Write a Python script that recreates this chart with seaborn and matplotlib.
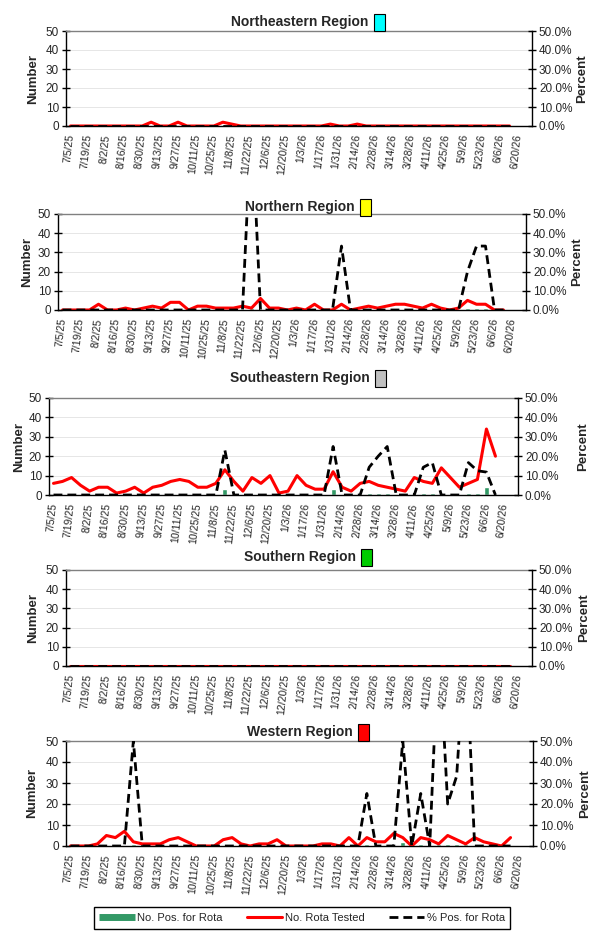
import numpy as np
import seaborn as sns
import matplotlib.pyplot as plt
from matplotlib.patches import Rectangle
from matplotlib.lines import Line2D

sns.set_style('white')
plt.rcParams['font.family'] = ['Liberation Sans', 'DejaVu Sans']

# 52 weekly categories starting 7/5/25, a label every second week
n_weeks = 52
tick_labels = ['7/5/25', '7/19/25', '8/2/25', '8/16/25', '8/30/25', '9/13/25', '9/27/25',
               '10/11/25', '10/25/25', '11/8/25', '11/22/25', '12/6/25', '12/20/25',
               '1/3/26', '1/17/26', '1/31/26', '2/14/26', '2/28/26', '3/14/26', '3/28/26',
               '4/11/26', '4/25/26', '5/9/26', '5/23/26', '6/6/26', '6/20/26']

regions = ['Northeastern Region', 'Northern Region', 'Southeastern Region',
           'Southern Region', 'Western Region']
region_colors = ['#00ffff', '#ffff00', '#c0c0c0', '#00cc00', '#ff0000']

# weeks 0..49 (data stops at 6/13/26)
ne_tested = [0, 0, 0, 0, 0, 0, 0, 0, 0, 2, 0, 0, 2, 0, 0, 0, 0, 2, 1, 0,
             0, 0, 0, 0, 0, 0, 0, 0, 0, 1, 0, 0, 1, 0, 0, 0, 0, 0, 0, 0,
             0, 0, 0, 0, 0, 0, 0, 0, 0, 0]
ne_pos = [0] * 50
ne_pct = [0] * 50

n_tested = [0, 0, 0, 0, 3, 0, 0, 1, 0, 1, 2, 1, 4, 4, 0, 2, 2, 1, 1, 1,
            2, 1, 6, 1, 1, 0, 1, 0, 3, 0, 0, 3, 0, 1, 2, 1, 2, 3, 3, 2,
            1, 3, 1, 0, 1, 5, 3, 3, 0, 0]
n_pos = [0, 0, 0, 0, 0, 0, 0, 0, 0, 0, 0, 0, 0, 0, 0, 0, 0, 0, 0, 0,
         0, 1, 0, 0, 0, 0, 0, 0, 0, 0, 0, 1, 0, 0, 0, 0, 0, 0, 0, 0,
         0, 0, 0, 0, 0, 1, 1, 1, 0, 0]
n_pct = [0, 0, 0, 0, 0, 0, 0, 0, 0, 0, 0, 0, 0, 0, 0, 0, 0, 0, 0, 0,
         0, 100, 0, 0, 0, 0, 0, 0, 0, 0, 0, 33.3, 0, 0, 0, 0, 0, 0, 0, 0,
         0, 0, 0, 0, 0, 20, 33.3, 33.3, 0, 0]

se_tested = [6, 7, 9, 5, 2, 4, 4, 1, 2, 4, 1, 4, 5, 7, 8, 7, 4, 4, 6, 13,
             7, 2, 9, 6, 10, 1, 2, 10, 5, 3, 3, 12, 4, 2, 6, 7, 5, 4, 3, 2,
             9, 7, 6, 14, 9, 4, 6, 8, 34, 20]
se_pos = [0, 0, 0, 0, 0, 0, 0, 0, 0, 0, 0, 0, 0, 0, 0, 0, 0, 0, 0, 3,
          0, 0, 0, 0, 0, 0, 0, 0, 0, 0, 0, 3, 0, 0, 0, 1, 1, 1, 0, 0,
          0, 1, 1, 0, 0, 0, 1, 1, 4, 0]
se_pct = [0, 0, 0, 0, 0, 0, 0, 0, 0, 0, 0, 0, 0, 0, 0, 0, 0, 0, 0, 23.1,
          0, 0, 0, 0, 0, 0, 0, 0, 0, 0, 0, 25, 0, 0, 0, 14.3, 20, 25, 0, 0,
          0, 14.3, 16.7, 0, 0, 0, 16.7, 12.5, 11.8, 0]

s_tested = [0] * 50
s_pos = [0] * 50
s_pct = [0] * 50

w_tested = [0, 0, 0, 1, 5, 4, 7, 2, 1, 1, 1, 3, 4, 2, 0, 0, 0, 3, 4, 1,
            0, 1, 1, 3, 0, 0, 0, 0, 1, 1, 0, 4, 0, 4, 2, 2, 6, 4, 0, 4,
            3, 1, 5, 3, 1, 4, 2, 1, 0, 4]
w_pos = [0, 0, 0, 0, 0, 0, 0, 1, 0, 0, 0, 0, 0, 0, 0, 0, 0, 0, 0, 0,
         0, 0, 0, 0, 0, 0, 0, 0, 0, 0, 0, 0, 0, 1, 0, 0, 0, 2, 0, 1,
         0, 1, 1, 1, 1, 0, 0, 0, 0, 0]
w_pct = [0, 0, 0, 0, 0, 0, 0, 50, 0, 0, 0, 0, 0, 0, 0, 0, 0, 0, 0, 0,
         0, 0, 0, 0, 0, 0, 0, 0, 0, 0, 0, 0, 0, 25, 0, 0, 0, 50, 0, 25,
         0, 100, 20, 33.3, 100, 0, 0, 0, 0, 0]

tested = [ne_tested, n_tested, se_tested, s_tested, w_tested]
positives = [ne_pos, n_pos, se_pos, s_pos, w_pos]
percents = [ne_pct, n_pct, se_pct, s_pct, w_pct]

# pixel layout: axes left, right, top, bottom, title y, "Number" x, "Percent" x
W, H = 600, 933
layout = [(66, 532, 31, 126, 22, 33, 582),
          (58, 526, 214, 310, 207, 27, 577),
          (49, 518, 398, 495, 378, 19, 583),
          (66, 532, 570, 666, 557, 33, 584),
          (66, 533, 741, 846, 732, 32, 585)]

bar_green = '#339966'
dash = (0, (3.2, 1.8))

fig = plt.figure(figsize=(W / 100, H / 100), dpi=100)
titles = []
for k in range(5):
    l, r, t, b, ty, nx, px = layout[k]
    ax = fig.add_axes([l / W, 1 - b / H, (r - l) / W, (b - t) / H])
    x = np.arange(len(tested[k]))
    sns.barplot(x=x, y=positives[k], ax=ax, color=bar_green, width=0.55,
                native_scale=True, errorbar=None, saturation=1)
    sns.lineplot(x=x, y=tested[k], ax=ax, color='red', lw=2.2, legend=False)
    ax2 = ax.twinx()
    sns.lineplot(x=x, y=percents[k], ax=ax2, color='black', lw=2, ls=dash, legend=False)

    ax.set_xlim(-0.5, n_weeks - 0.5)
    ax.set_ylim(0, 50)
    ax2.set_ylim(0, 50)
    ax.set_xticks(range(0, n_weeks, 2))
    ax.set_xticklabels(tick_labels, fontsize=7.5)
    for lab in ax.get_xticklabels():
        lab.set_rotation(84)
        lab.set_ha('right')
        lab.set_va('center')
        lab.set_rotation_mode('anchor')
    ax.set_xticks(np.arange(-0.5, n_weeks, 1), minor=True)
    ax.set_yticks(range(0, 51, 10))
    ax.set_yticklabels([str(v) for v in range(0, 51, 10)], fontsize=8.5)
    ax2.set_yticks(range(0, 51, 10))
    ax2.set_yticklabels([f'{v:.1f}%' for v in range(0, 51, 10)], fontsize=8.5)
    ax.set_xlabel('')
    ax.set_ylabel('')
    ax2.set_ylabel('')

    ax.tick_params(axis='x', which='major', length=0, pad=6)
    ax.tick_params(axis='x', which='minor', direction='inout', length=6, width=1, color='black')
    ax.tick_params(axis='y', direction='inout', length=6, width=1, color='black', pad=2)
    ax2.tick_params(axis='y', direction='inout', length=6, width=1, color='black', pad=2)

    ax.grid(axis='y', color='#e2e2e2', lw=0.6)
    ax.set_axisbelow(True)
    for s in ['left', 'bottom']:
        ax.spines[s].set_color('black')
        ax.spines[s].set_linewidth(1)
    ax.spines['top'].set_color('#808080')
    ax.spines['top'].set_linewidth(1)
    ax.spines['right'].set_visible(False)
    for s in ['left', 'top', 'bottom']:
        ax2.spines[s].set_visible(False)
    ax2.spines['right'].set_color('black')
    ax2.spines['right'].set_linewidth(1)

    fig.text(nx / W, 1 - (t + b) / 2 / H, 'Number', rotation=90, ha='center', va='center',
             fontweight='bold', fontsize=9.5)
    fig.text(px / W, 1 - (t + b) / 2 / H, 'Percent', rotation=90, ha='center', va='center',
             fontweight='bold', fontsize=9.5)
    titles.append(fig.text(300 / W, 1 - ty / H, regions[k], ha='center', va='center',
                           fontweight='bold', fontsize=10))

# coloured key square right after each title
fig.canvas.draw()
renderer = fig.canvas.get_renderer()
for k, txt in enumerate(titles):
    bb = txt.get_window_extent(renderer)
    ty = layout[k][4]
    fig.patches.append(Rectangle(((bb.x1 + 5) / W, 1 - (ty + 9) / H), 11 / W, 17 / H,
                                 transform=fig.transFigure, facecolor=region_colors[k],
                                 edgecolor='black', lw=0.8))

handles = [Line2D([], [], color=bar_green, lw=5, solid_capstyle='butt'),
           Line2D([], [], color='red', lw=2.2),
           Line2D([], [], color='black', lw=2, ls=dash)]
leg = fig.legend(handles, ['No. Pos. for Rota', 'No. Rota Tested', '% Pos. for Rota'],
                 loc='center', bbox_to_anchor=(302 / W, 1 - 918 / H), ncol=3,
                 fontsize=8, handlelength=3.2, columnspacing=2.2, handletextpad=0.2,
                 fancybox=False, edgecolor='black', borderpad=0.5, framealpha=1)
leg.get_frame().set_linewidth(1)

plt.savefig('out.png', dpi=100)
